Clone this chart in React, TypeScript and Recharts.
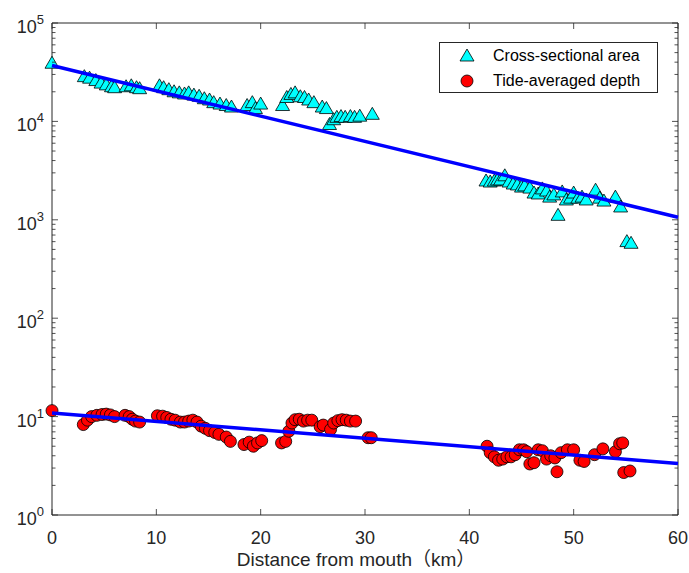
import { ScatterChart, Scatter, XAxis, YAxis, Legend } from "recharts";

// Cross-sectional area (m^2) vs distance (km)
const areaKm = [
  0, 3.1, 3.6, 4.2, 4.7, 5.2, 5.7, 6.0, 7.1, 7.6, 8.1, 8.4, 10.3, 10.7, 11.2, 11.7,
  12.2, 12.7, 13.1, 13.6, 14.1, 14.6, 15.1, 15.5, 16.1, 16.7, 17.2, 18.7, 19.2, 19.5,
  20.0, 22.1, 22.5, 22.9, 23.3, 23.8, 24.2, 24.6, 25.1, 25.9, 26.3, 26.6, 27.0, 27.3,
  27.7, 28.1, 28.6, 29.0, 29.5, 30.7, 41.6, 42.0, 42.4, 42.7, 43.0, 43.4, 43.8, 44.2,
  44.6, 45.0, 45.3, 45.8, 46.2, 46.6, 47.0, 47.4, 47.7, 48.1, 48.5, 48.9, 49.3, 49.7,
  50.0, 50.4, 50.8, 51.2, 52.1, 52.5, 52.9, 54.0, 54.5, 55.1, 55.5,
];
const areaValue = [
  39000, 28500, 27500, 26000, 24500, 23500, 22500, 22000, 22500, 23000, 22000, 21500,
  23000, 22000, 21000, 20000, 19500, 19000, 19500, 18500, 18000, 17000, 16500, 15500,
  15000, 14500, 14000, 14500, 15500, 13500, 15000, 14500, 17500, 18800, 19500, 17800,
  17500, 16500, 15500, 14000, 13500, 9300, 10400, 11000, 11200, 11000, 11200, 11000,
  11300, 11800, 2480, 2420, 2480, 2540, 2540, 2800, 2420, 2310, 2260, 2150, 2210, 2100,
  1870, 1830, 2060, 1960, 1700, 1790, 1110, 1920, 1590, 1660, 1870, 1660, 1700, 1590,
  2000, 1660, 1550, 1700, 1350, 600, 577,
];

// Tide-averaged depth (m) vs distance (km)
const depthKm = [
  0, 3.0, 3.4, 3.8, 4.3, 4.8, 5.2, 5.6, 6.0, 7.0, 7.4, 7.7, 8.0, 8.4, 10.1, 10.6, 11.0,
  11.4, 11.8, 12.3, 12.7, 13.1, 13.5, 13.9, 14.3, 14.7, 15.1, 15.6, 16.0, 16.7, 17.1,
  18.4, 18.9, 19.3, 19.7, 20.1, 22.0, 22.4, 22.7, 23.0, 23.3, 23.7, 24.1, 24.5, 24.9,
  25.7, 26.0, 26.7, 27.0, 27.4, 27.8, 28.2, 28.6, 29.1, 30.3, 30.6, 41.7, 42.0, 42.4,
  42.8, 43.2, 43.6, 44.0, 44.4, 44.8, 45.2, 45.5, 45.8, 46.2, 46.6, 47.0, 47.4, 47.8,
  48.2, 48.4, 48.8, 49.4, 50.0, 50.6, 51.0, 52.0, 52.8, 54.0, 54.4, 54.7, 54.8, 55.4,
];
const depthValue = [
  11.5, 8.3, 9.2, 10.0, 10.3, 10.5, 10.6, 10.4, 10.0, 10.3, 10.0, 9.4, 9.0, 8.8, 10.2,
  10.1, 9.8, 9.4, 9.2, 8.8, 8.8, 9.0, 9.2, 8.8, 8.0, 7.6, 7.2, 6.9, 6.6, 6.2, 5.6, 5.2,
  5.5, 5.0, 5.4, 5.7, 5.4, 5.6, 7.1, 8.6, 9.3, 9.4, 9.0, 9.2, 9.2, 7.9, 8.2, 7.4, 8.6,
  9.1, 9.3, 9.2, 9.0, 9.0, 6.1, 6.1, 5.0, 4.3, 3.9, 3.6, 3.7, 3.9, 3.9, 4.1, 4.6, 4.6,
  4.4, 3.3, 3.4, 4.6, 4.5, 3.7, 4.0, 3.8, 2.75, 4.3, 4.6, 4.6, 3.6, 3.5, 4.1, 4.7, 4.4,
  5.3, 5.4, 2.7, 2.8,
];

// exponential fits (end points)
const fitKm = [0, 60];
const areaFit = [37000, 1060];
const depthFit = [10.9, 3.34];

const xTicks = [0, 10, 20, 30, 40, 50, 60];
const decades = [1, 10, 100, 1000, 10000, 100000];
const minorSteps = [1, 2, 3, 4, 5, 6, 7, 8, 9];

const areaData = areaKm.map((x, i) => ({ x, y: areaValue[i] }));
const depthData = depthKm.map((x, i) => ({ x, y: depthValue[i] }));
const areaFitData = fitKm.map((x, i) => ({ x, y: areaFit[i] }));
const depthFitData = fitKm.map((x, i) => ({ x, y: depthFit[i] }));
const yTicks = decades.flatMap((d) => (d === 100000 ? [d] : minorSteps.map((m) => m * d)));

const AXIS = "#262626";
const FONT = "'Liberation Sans', Arial, 'Noto Sans CJK SC', sans-serif";

const isMajor = (v: number) => {
  const e = Math.round(Math.log10(v));
  return Math.abs(Math.pow(10, e) - v) < 1e-6;
};

function LeftTick(props: any) {
  const { x, y, payload } = props;
  const v = payload.value;
  const major = isMajor(v);
  return (
    <g>
      <line x1={x} x2={x + (major ? 6 : 3.5)} y1={y} y2={y} stroke={AXIS} strokeWidth={0.8} />
      {major && (
        <text x={x - 8} y={y + 10} textAnchor="end" fill={AXIS} fontSize={18} fontFamily={FONT}>
          10
          <tspan dy={-9} fontSize={13}>
            {Math.round(Math.log10(v))}
          </tspan>
        </text>
      )}
    </g>
  );
}

function RightTick(props: any) {
  const { x, y, payload } = props;
  const major = isMajor(payload.value);
  return <line x1={x} x2={x - (major ? 6 : 3.5)} y1={y} y2={y} stroke={AXIS} strokeWidth={0.8} />;
}

function BottomTick(props: any) {
  const { x, y, payload } = props;
  return (
    <g>
      <line x1={x} x2={x} y1={y} y2={y - 6} stroke={AXIS} strokeWidth={0.8} />
      <text x={x} y={y + 29} textAnchor="middle" fill={AXIS} fontSize={18} fontFamily={FONT}>
        {payload.value}
      </text>
    </g>
  );
}

function TopTick(props: any) {
  const { x, y } = props;
  return <line x1={x} x2={x} y1={y} y2={y + 6} stroke={AXIS} strokeWidth={0.8} />;
}

function Triangle(props: any) {
  const { cx, cy } = props;
  return (
    <polygon
      points={`${cx},${cy - 7} ${cx - 7},${cy + 5} ${cx + 7},${cy + 5}`}
      fill="#00ffff"
      stroke="#000"
      strokeWidth={0.8}
    />
  );
}

function Dot(props: any) {
  const { cx, cy } = props;
  return <circle cx={cx} cy={cy} r={6} fill="#ff0000" stroke="#000" strokeWidth={0.8} />;
}

const NoShape = () => <g />;

function LegendBox() {
  return (
    <div
      style={{
        width: 217,
        height: 49,
        border: `1px solid ${AXIS}`,
        background: "#fff",
        fontFamily: FONT,
        fontSize: 16,
        color: "#000",
        position: "relative",
      }}
    >
      <svg width={30} height={50} style={{ position: "absolute", left: 12, top: 0 }}>
        <polygon points="15,6 8,18 22,18" fill="#00ffff" stroke="#000" strokeWidth={0.8} />
        <circle cx={15} cy={38} r={6} fill="#ff0000" stroke="#000" strokeWidth={0.8} />
      </svg>
      <div style={{ position: "absolute", left: 53, top: 3, lineHeight: "20px" }}>Cross-sectional area</div>
      <div style={{ position: "absolute", left: 53, top: 28, lineHeight: "20px" }}>Tide-averaged depth</div>
    </div>
  );
}

export default function App() {
  return (
    <div style={{ position: "fixed", left: 0, top: 0, width: 689, height: 573, background: "#fff" }}>
      <ScatterChart width={689} height={573} margin={{ top: 0, right: 0, bottom: 0, left: 0 }}>
        <XAxis
          xAxisId="top"
          orientation="top"
          type="number"
          dataKey="x"
          domain={[0, 60]}
          ticks={xTicks}
          interval={0}
          height={23}
          tickSize={0}
          tickMargin={0}
          tickLine={false}
          tick={TopTick}
          axisLine={{ stroke: AXIS, strokeWidth: 1 }}
        />
        <XAxis
          type="number"
          dataKey="x"
          domain={[0, 60]}
          ticks={xTicks}
          interval={0}
          height={58}
          tickSize={0}
          tickMargin={0}
          tickLine={false}
          tick={BottomTick}
          axisLine={{ stroke: AXIS, strokeWidth: 1 }}
          label={{
            value: "Distance from mouth（km）",
            position: "insideBottom",
            offset: 7,
            fill: AXIS,
            fontSize: 19,
            fontFamily: FONT,
            dx: -9,
          }}
        />
        <YAxis
          type="number"
          dataKey="y"
          scale="log"
          domain={[1, 100000]}
          ticks={yTicks}
          interval={0}
          width={52}
          tickSize={0}
          tickMargin={0}
          tickLine={false}
          tick={LeftTick}
          axisLine={{ stroke: AXIS, strokeWidth: 1 }}
        />
        <YAxis
          yAxisId="right"
          orientation="right"
          type="number"
          dataKey="y"
          scale="log"
          domain={[1, 100000]}
          ticks={yTicks}
          interval={0}
          width={11}
          tickSize={0}
          tickMargin={0}
          tickLine={false}
          tick={RightTick}
          axisLine={{ stroke: AXIS, strokeWidth: 1 }}
        />
        <Legend
          layout="horizontal"
          align="center"
          verticalAlign="middle"
          content={LegendBox}
          wrapperStyle={{ position: "absolute", left: 439, top: 42, width: 219, height: 51 }}
        />
        <Scatter name="Cross-sectional area" data={areaData} shape={Triangle} isAnimationActive={false} />
        <Scatter name="Tide-averaged depth" data={depthData} shape={Dot} isAnimationActive={false} />
        <Scatter
          xAxisId="top"
          yAxisId="right"
          data={areaFitData}
          line={{ stroke: "#0000ff", strokeWidth: 3.5 }}
          shape={NoShape}
          legendType="none"
          isAnimationActive={false}
        />
        <Scatter
          xAxisId="top"
          yAxisId="right"
          data={depthFitData}
          line={{ stroke: "#0000ff", strokeWidth: 3.5 }}
          shape={NoShape}
          legendType="none"
          isAnimationActive={false}
        />
      </ScatterChart>
    </div>
  );
}
